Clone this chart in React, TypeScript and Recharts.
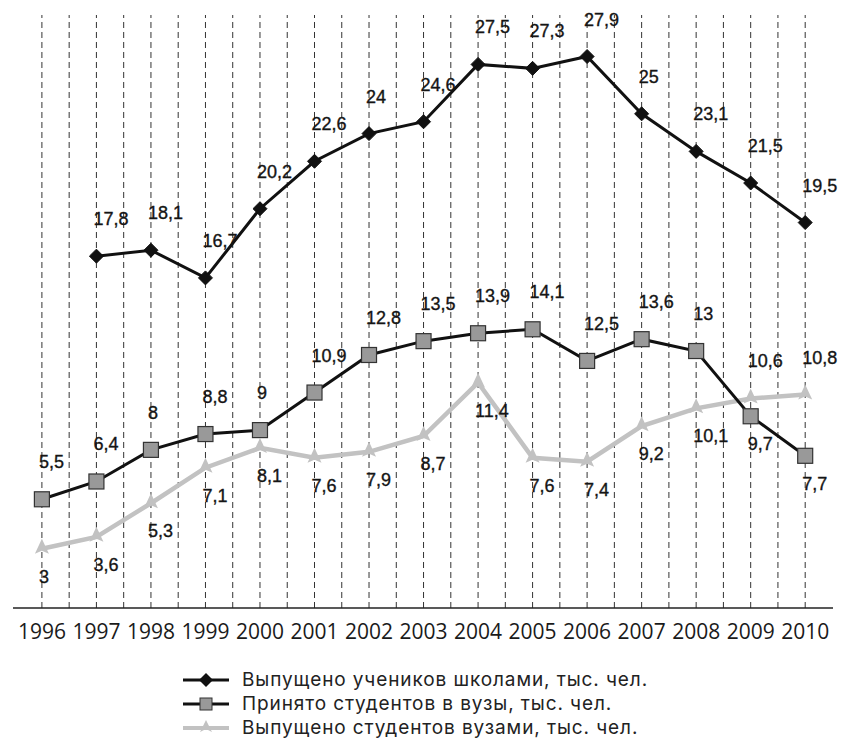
import React from 'react';
import { LineChart, Line, XAxis, YAxis, ReferenceLine, LabelList } from 'recharts';

const years = [1996, 1997, 1998, 1999, 2000, 2001, 2002, 2003, 2004, 2005, 2006, 2007, 2008, 2009, 2010];
const schoolGraduates = [null, 17.8, 18.1, 16.7, 20.2, 22.6, 24, 24.6, 27.5, 27.3, 27.9, 25, 23.1, 21.5, 19.5];
const admissions = [5.5, 6.4, 8, 8.8, 9, 10.9, 12.8, 13.5, 13.9, 14.1, 12.5, 13.6, 13, 9.7, 7.7];
const uniGraduates = [3, 3.6, 5.3, 7.1, 8.1, 7.6, 7.9, 8.7, 11.4, 7.6, 7.4, 9.2, 10.1, 10.6, 10.8];

// which labels break the usual side (above / below) for their series
const admissionsBelow = [2009, 2010];
const graduatesAbove = [2009, 2010];

const seriesNames = [
  'Выпущено учеников школами, тыс. чел.',
  'Принято студентов в вузы, тыс. чел.',
  'Выпущено студентов вузами, тыс. чел.',
];

const data = years.map((year, i) => ({
  year,
  school: schoolGraduates[i],
  admissions: admissions[i],
  graduates: uniGraduates[i],
}));

// dashed verticals on every year and halfway between
const gridXs = years.flatMap((y) => (y < 2010 ? [y, y + 0.5] : [y]));

const LABEL_FONT = '"Liberation Sans", Arial, sans-serif';
const TEXT_FONT = '"Open Sans", "Noto Sans", sans-serif';
const LEGEND_FONT = 'Inter, "Open Sans", sans-serif';

const fmt = (v: number) => String(v).replace('.', ',');

const makeLabel = (defaultBelow: boolean, flipYears: number[]) => (props: any) => {
  const { x, y, value, index } = props;
  if (value == null || x == null || y == null) return null;
  const flipped = flipYears.includes(years[index]);
  const below = flipped ? !defaultBelow : defaultBelow;
  return (
    <text
      x={x - 3}
      y={below ? y + 34 : y - 31}
      textAnchor="start"
      fontFamily={LABEL_FONT}
      fontSize={18}
      fill="#151515"
      stroke="#151515"
      strokeWidth={0.35}
    >
      {fmt(value)}
    </text>
  );
};

const Diamond = (props: any) => {
  const { cx, cy, index } = props;
  if (cx == null || cy == null || props.value == null) return <g key={`d-${index}`} />;
  const r = 7;
  return (
    <polygon
      key={`d-${index}`}
      points={`${cx},${cy - r} ${cx + r},${cy} ${cx},${cy + r} ${cx - r},${cy}`}
      fill="#111"
      stroke="#111"
    />
  );
};

const Square = (props: any) => {
  const { cx, cy, index } = props;
  if (cx == null || cy == null) return <g key={`s-${index}`} />;
  const s = 15;
  return (
    <rect
      key={`s-${index}`}
      x={cx - s / 2}
      y={cy - s / 2}
      width={s}
      height={s}
      fill="#999"
      stroke="#333"
      strokeWidth={1.2}
    />
  );
};

const Spike = (props: any) => {
  const { cx, cy, index } = props;
  if (cx == null || cy == null) return <g key={`t-${index}`} />;
  return (
    <polygon
      key={`t-${index}`}
      points={`${cx},${cy - 10} ${cx + 7},${cy + 5} ${cx},${cy + 2} ${cx - 7},${cy + 5}`}
      fill="#c2c2c2"
    />
  );
};

const LegendIcon = ({ kind }: { kind: number }) => (
  <svg width={46} height={16} style={{ display: 'block' }}>
    {kind === 0 && (
      <>
        <line x1={0} y1={8} x2={46} y2={8} stroke="#111" strokeWidth={3} />
        <polygon points="23,1 30,8 23,15 16,8" fill="#111" />
      </>
    )}
    {kind === 1 && (
      <>
        <line x1={0} y1={8} x2={46} y2={8} stroke="#111" strokeWidth={3} />
        <rect x={17} y={2} width={12} height={12} fill="#999" stroke="#333" />
      </>
    )}
    {kind === 2 && (
      <>
        <line x1={0} y1={8} x2={46} y2={8} stroke="#c2c2c2" strokeWidth={4} />
        <polygon points="23,0 29,12 23,9 17,12" fill="#c2c2c2" />
      </>
    )}
  </svg>
);

export default function App() {
  return (
    <div style={{ position: 'absolute', left: 0, top: 0, width: 844, height: 754, background: '#fff' }}>
      <LineChart
        width={844}
        height={754}
        data={data}
        margin={{ top: 15, right: 11, bottom: 116, left: 13 }}
      >
        <XAxis
          dataKey="year"
          type="number"
          domain={[1995.47, 2010.51]}
          ticks={years}
          allowDataOverflow
          tickLine={false}
          tickSize={6}
          tickMargin={10}
          axisLine={{ stroke: '#222', strokeWidth: 1.5 }}
          tick={{ fontSize: 21, fontFamily: TEXT_FONT, fill: '#1a1a1a' }}
        />
        <YAxis hide domain={[0, 30]} />
        {gridXs.map((gx) => (
          <ReferenceLine key={gx} x={gx} stroke="#333" strokeWidth={1} strokeDasharray="6 4" />
        ))}
        <Line
          dataKey="graduates"
          stroke="#c2c2c2"
          strokeWidth={4.5}
          dot={Spike}
          activeDot={false}
          isAnimationActive={false}
        >
          <LabelList dataKey="graduates" content={makeLabel(true, graduatesAbove)} />
        </Line>
        <Line
          dataKey="admissions"
          stroke="#111"
          strokeWidth={3}
          dot={Square}
          activeDot={false}
          isAnimationActive={false}
        >
          <LabelList dataKey="admissions" content={makeLabel(false, admissionsBelow)} />
        </Line>
        <Line
          dataKey="school"
          stroke="#111"
          strokeWidth={3}
          dot={Diamond}
          activeDot={false}
          isAnimationActive={false}
        >
          <LabelList dataKey="school" content={makeLabel(false, [])} />
        </Line>
      </LineChart>
      <div style={{ position: 'absolute', left: 183, top: 668 }}>
        {seriesNames.map((name, i) => (
          <div key={name} style={{ display: 'flex', alignItems: 'center', height: 24 }}>
            <LegendIcon kind={i} />
            <span
              style={{
                marginLeft: 13,
                fontFamily: LEGEND_FONT,
                fontSize: 19,
                letterSpacing: 0.9,
                lineHeight: '22px',
                color: '#222',
                whiteSpace: 'nowrap',
              }}
            >
              {name}
            </span>
          </div>
        ))}
      </div>
    </div>
  );
}
